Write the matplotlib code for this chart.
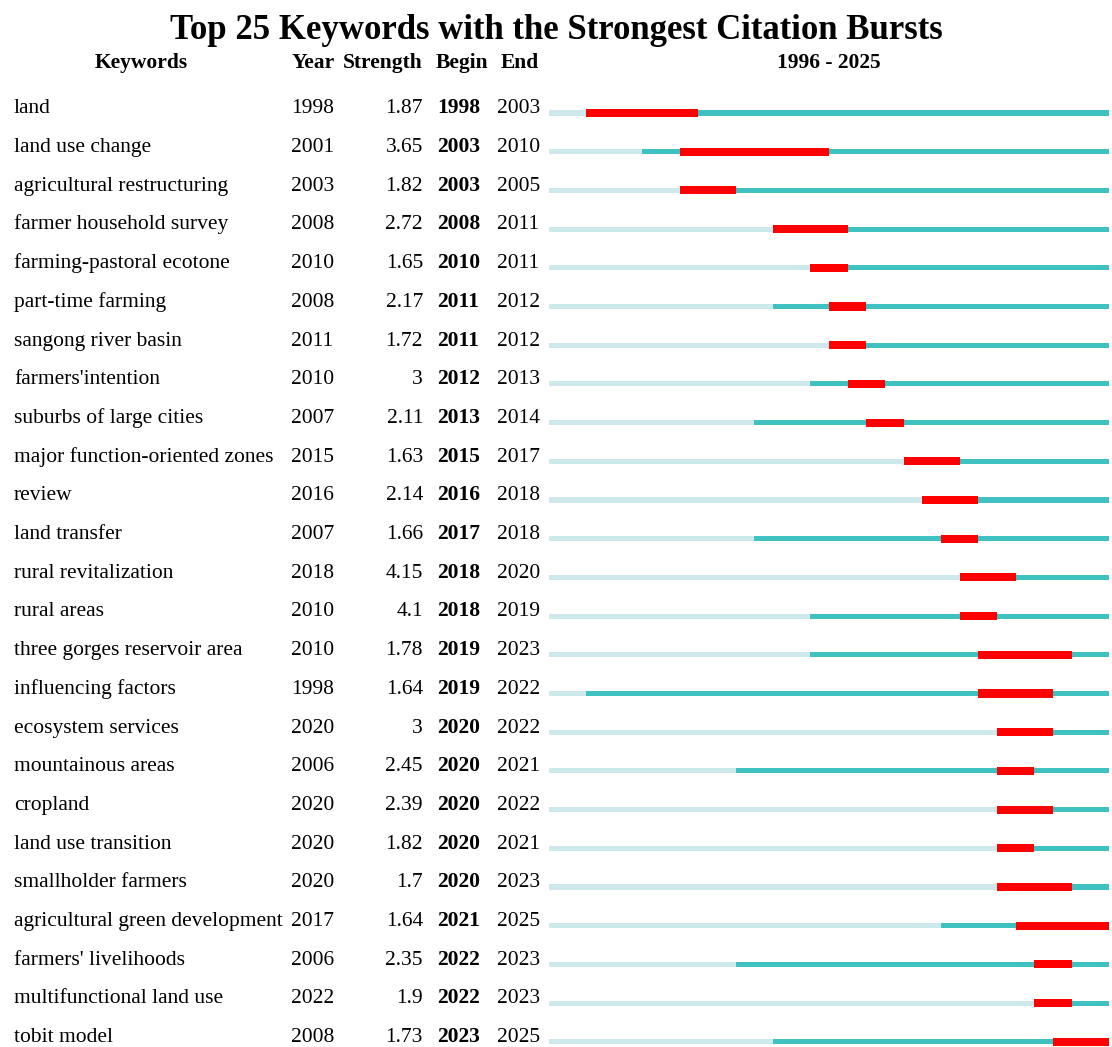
import numpy as np
import matplotlib.pyplot as plt
import matplotlib.transforms as mtransforms

# ---------------- data ----------------
keywords = ["land", "land use change", "agricultural restructuring",
            "farmer household survey", "farming-pastoral ecotone",
            "part-time farming", "sangong river basin", "farmers'intention",
            "suburbs of large cities", "major function-oriented zones",
            "review", "land transfer", "rural revitalization", "rural areas",
            "three gorges reservoir area", "influencing factors",
            "ecosystem services", "mountainous areas", "cropland",
            "land use transition", "smallholder farmers",
            "agricultural green development", "farmers' livelihoods",
            "multifunctional land use", "tobit model"]
year = [1998, 2001, 2003, 2008, 2010, 2008, 2011, 2010, 2007, 2015, 2016,
        2007, 2018, 2010, 2010, 1998, 2020, 2006, 2020, 2020, 2020, 2017,
        2006, 2022, 2008]
strength = [1.87, 3.65, 1.82, 2.72, 1.65, 2.17, 1.72, 3, 2.11, 1.63, 2.14,
            1.66, 4.15, 4.1, 1.78, 1.64, 3, 2.45, 2.39, 1.82, 1.7, 1.64,
            2.35, 1.9, 1.73]
begin = [1998, 2003, 2003, 2008, 2010, 2011, 2011, 2012, 2013, 2015, 2016,
         2017, 2018, 2018, 2019, 2019, 2020, 2020, 2020, 2020, 2020, 2021,
         2022, 2022, 2023]
end = [2003, 2010, 2005, 2011, 2011, 2012, 2012, 2013, 2014, 2017, 2018,
       2018, 2020, 2019, 2023, 2022, 2022, 2021, 2022, 2021, 2023, 2025,
       2023, 2023, 2025]
first_year, last_year = 1996, 2025

# ---------------- style ----------------
plt.rcParams['font.family'] = ['Liberation Serif', 'DejaVu Serif']
LIGHT = '#cde9ec'
TEAL = '#3fc1c1'
RED = '#ff0000'
W, H = 1112, 1047
FS = 15.5

fig = plt.figure(figsize=(W / 100, H / 100), dpi=100)
# bar area spans the timeline; rows fill the figure height
ax = fig.add_axes([549 / W, 0, 560 / W, 1])
n = len(keywords)
rows = np.arange(n)
pitch = 38.7
top_row = -113 / pitch
bot_row = (H - 113) / pitch
ax.set_xlim(first_year, last_year + 1)
ax.set_ylim(bot_row, top_row)
ax.axis('off')

yr = np.array(year)
bg = np.array(begin)
en = np.array(end)
ax.barh(rows, yr - first_year, left=first_year, height=0.13,
        color=LIGHT, linewidth=0)
ax.barh(rows, last_year + 1 - yr, left=yr, height=0.13,
        color=TEAL, linewidth=0)
ax.barh(rows, en + 1 - bg, left=bg, height=0.21,
        color=RED, linewidth=0)

# text columns: x in figure fraction, y in row units
tr = mtransforms.blended_transform_factory(fig.transFigure, ax.transData)
for i in range(n):
    yy = rows[i] + 0.01
    ax.text(14 / W, yy, keywords[i], transform=tr, fontsize=FS,
            va='baseline', ha='left')
    ax.text(291 / W, yy, str(year[i]), transform=tr, fontsize=FS,
            va='baseline', ha='left')
    ax.text(423 / W, yy, '{:g}'.format(strength[i]), transform=tr,
            fontsize=FS, va='baseline', ha='right')
    ax.text(437 / W, yy, str(begin[i]), transform=tr, fontsize=FS,
            va='baseline', ha='left', fontweight='bold')
    ax.text(497 / W, yy, str(end[i]), transform=tr, fontsize=FS,
            va='baseline', ha='left')

# header row
hy = top_row + 68 / pitch
ax.text(141 / W, hy, 'Keywords', transform=tr, fontsize=FS,
        fontweight='bold', va='baseline', ha='center')
ax.text(292 / W, hy, 'Year', transform=tr, fontsize=FS,
        fontweight='bold', va='baseline', ha='left')
ax.text(343 / W, hy, 'Strength', transform=tr, fontsize=FS,
        fontweight='bold', va='baseline', ha='left')
ax.text(436 / W, hy, 'Begin', transform=tr, fontsize=FS,
        fontweight='bold', va='baseline', ha='left')
ax.text(501 / W, hy, 'End', transform=tr, fontsize=FS,
        fontweight='bold', va='baseline', ha='left')
ax.text((first_year + last_year + 1) / 2, hy,
        '%d - %d' % (first_year, last_year), fontsize=FS,
        fontweight='bold', va='baseline', ha='center')

fig.text(0.5, 1 - 39 / H, 'Top 25 Keywords with the Strongest Citation Bursts',
         fontsize=25, fontweight='bold', ha='center', va='baseline')

fig.savefig('out.png', dpi=100)
